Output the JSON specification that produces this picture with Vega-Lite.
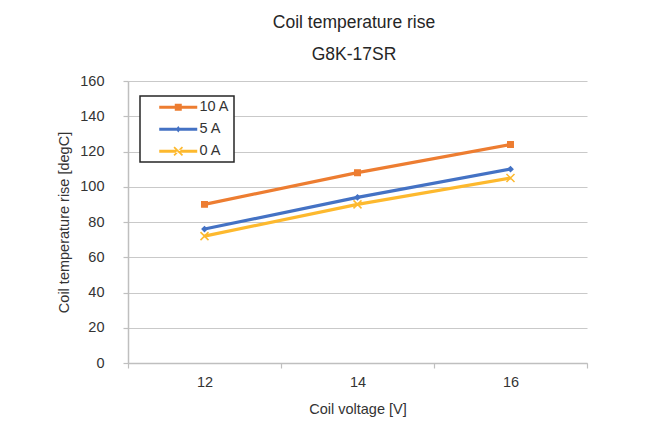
{
  "$schema": "https://vega.github.io/schema/vega-lite/v6.json",
  "width": 459,
  "height": 282,
  "autosize": {"type": "none"},
  "padding": {"left": 128, "top": 81, "right": 62, "bottom": 65},
  "background": "white",
  "title": {
    "text": ["Coil temperature rise", "G8K-17SR"],
    "anchor": "middle",
    "frame": "group",
    "fontSize": 17.5,
    "fontWeight": "normal",
    "font": "Liberation Sans",
    "color": "#262626",
    "lineHeight": 32,
    "offset": 10,
    "dx": -3.5
  },
  "config": {
    "font": "Liberation Sans",
    "view": {"stroke": null},
    "axis": {
      "labelFont": "Liberation Sans",
      "titleFont": "Liberation Sans",
      "labelFontSize": 14.5,
      "titleFontSize": 14.5,
      "titleFontWeight": "normal",
      "labelColor": "#333333",
      "titleColor": "#333333",
      "domainColor": "#BFBFBF",
      "tickColor": "#BFBFBF",
      "gridColor": "#C9C9C9",
      "domainWidth": 1.5,
      "tickWidth": 1.2,
      "gridWidth": 1.2,
      "tickSize": 5
    }
  },
  "data": {
    "values": [
      {"voltage": "12", "series": "10 A", "temp": 90},
      {"voltage": "14", "series": "10 A", "temp": 108},
      {"voltage": "16", "series": "10 A", "temp": 124},
      {"voltage": "12", "series": "5 A", "temp": 76},
      {"voltage": "14", "series": "5 A", "temp": 94},
      {"voltage": "16", "series": "5 A", "temp": 110},
      {"voltage": "12", "series": "0 A", "temp": 72},
      {"voltage": "14", "series": "0 A", "temp": 90},
      {"voltage": "16", "series": "0 A", "temp": 105}
    ]
  },
  "encoding": {
    "x": {
      "field": "voltage",
      "type": "ordinal",
      "sort": ["12", "14", "16"],
      "bandPosition": 0.5,
      "scale": {"type": "band", "paddingInner": 0, "paddingOuter": 0},
      "axis": {
        "title": "Coil voltage [V]",
        "labelAngle": 0,
        "tickBand": "extent",
        "grid": false,
        "labelPadding": 7,
        "titlePadding": 14
      }
    },
    "y": {
      "field": "temp",
      "type": "quantitative",
      "scale": {"domain": [0, 160], "nice": false, "zero": true},
      "axis": {
        "title": "Coil temperature rise [degC]",
        "values": [0, 20, 40, 60, 80, 100, 120, 140, 160],
        "grid": true,
        "labelPadding": 19,
        "titlePadding": 8
      }
    }
  },
  "layer": [
    {
      "mark": {"type": "line", "strokeWidth": 3.2},
      "encoding": {
        "color": {
          "field": "series",
          "type": "nominal",
          "sort": ["10 A", "5 A", "0 A"],
          "scale": {"domain": ["10 A", "5 A", "0 A"], "range": ["#ED7D31", "#4472C4", "#FDB92E"]},
          "legend": {
            "title": null,
            "orient": "none",
            "legendX": 12,
            "legendY": 15,
            "padding": 4,
            "rowPadding": 7,
            "fillColor": "white",
            "strokeColor": "#262626",
            "symbolSize": 196,
            "labelOffset": 41,
            "labelFontSize": 14.5,
            "labelFont": "Liberation Sans",
            "labelColor": "#333333",
            "labelExpr": "datum.label + '\u00a0\u00a0\u00a0'",
            "encode": {
              "legend": {"update": {"strokeWidth": {"value": 1.5}}},
              "symbols": {
                "update": {
                  "shape": {"signal": "datum.value === '10 A' ? 'M1.14,-0.21L6.57,-0.21L6.57,0.21L1.14,0.21Z M3.36,-0.5L4.36,-0.5L4.36,0.5L3.36,0.5Z' : datum.value === '5 A' ? 'M1.14,-0.21L6.57,-0.21L6.57,0.21L1.14,0.21Z M3.86,-0.45L4.2,0L3.86,0.45L3.52,0Z' : 'M1.14,-0.21L6.57,-0.21L6.57,0.21L1.14,0.21Z M3.345,-0.685L4.545,0.515L4.375,0.685L3.175,-0.515Z M3.345,0.685L4.545,-0.515L4.375,-0.685L3.175,0.515Z'"},
                  "fill": {"signal": "scale('color', datum.value)"},
                  "stroke": {"value": "transparent"},
                  "strokeWidth": {"value": 0},
                  "opacity": {"value": 1}
                }
              }
            }
          }
        }
      }
    },
    {
      "transform": [{"filter": "datum.series === '10 A'"}],
      "mark": {"type": "point", "shape": "square", "filled": true, "opacity": 1, "size": 30, "color": "#ED7D31", "stroke": "#ED7D31", "strokeWidth": 1.5}
    },
    {
      "transform": [{"filter": "datum.series === '5 A'"}],
      "mark": {"type": "point", "shape": "diamond", "filled": true, "opacity": 1, "size": 22, "color": "#4472C4", "stroke": "#4472C4", "strokeWidth": 1.5}
    },
    {
      "transform": [{"filter": "datum.series === '0 A'"}],
      "mark": {"type": "point", "shape": "M-1,-1L1,1M-1,1L1,-1", "filled": false, "opacity": 1, "size": 64, "stroke": "#FDB92E", "strokeWidth": 1.5}
    }
  ]
}
